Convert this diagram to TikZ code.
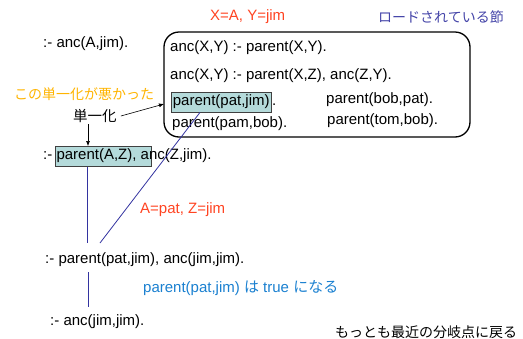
\documentclass[tikz,border=0pt]{standalone}
\usepackage{fontspec}
\setmainfont{Liberation Sans}
\newfontfamily\jp{Noto Sans CJK JP}
\usetikzlibrary{arrows.meta}
\definecolor{redt}{HTML}{FF4422}
\definecolor{navyt}{HTML}{4444A8}
\definecolor{oranget}{HTML}{FFB400}
\definecolor{bluet}{HTML}{1A80D0}
\definecolor{linec}{HTML}{3333A0}
\definecolor{hlfill}{HTML}{B4DADA}
\definecolor{hldraw}{HTML}{404040}
\tikzset{
  txt/.style={inner sep=0pt, anchor=west, font=\fontsize{15}{17}\selectfont},
  jtxt/.style={inner sep=0pt, anchor=west, font=\jp\fontsize{14}{16}\selectfont},
  hlbox/.style={draw=hldraw, fill=hlfill, line width=0.8pt, inner sep=0pt},
  arr/.style={-{Latex[length=5pt,width=4pt]}, line width=0.6pt},
  bline/.style={draw=linec, line width=0.8pt},
}
\begin{document}
\begin{tikzpicture}[x=1pt,y=-1pt]
\useasboundingbox (0,0) rectangle (523,338);
% loaded clauses box
\node (db) [draw, line width=1.3pt, rounded corners=15pt, minimum width=306pt, minimum height=105pt, inner sep=0pt] at (317,84.5) {};
% labels on top
\node (unif) [txt, text=redt] at (210,17) {X=A, Y=jim};
\node (loaded) [jtxt, text=navyt] at (378,17) {ロードされている節};
% query
\node (q1) [txt] at (43,44) {:- anc(A,jim).};
% clauses
\node (c1) [txt] at (170,48) {anc(X,Y) :- parent(X,Y).};
\node (c2) [txt] at (170,76) {anc(X,Y) :- parent(X,Z), anc(Z,Y).};
\node (ppj) [hlbox, txt, inner xsep=1.5pt, minimum height=20pt] at (171,102) {parent(pat,jim)};
\node (ppjd) [txt, anchor=base west] at ([xshift=0.5pt]ppj.base east) {.};
\node (c4) [txt] at (172,124) {parent(pam,bob).};
\node (c5) [txt] at (326,100) {parent(bob,pat).};
\node (c6) [txt] at (327,121) {parent(tom,bob).};
% annotations
\node (bad) [jtxt, text=oranget] at (14,94) {この単一化が悪かった};
\node (tan) [jtxt, font=\jp\fontsize{14.5}{16}\selectfont] at (73,116) {単一化};
% second goal
\node (hl2) [hlbox, anchor=north west, minimum width=96pt, minimum height=20pt] at (55,146) {};
\node (q2) [txt] at (43,156) {:- parent(A,Z), anc(Z,jim).};
\node (az) [txt, text=redt] at (140,210) {A=pat, Z=jim};
\node (q3) [txt] at (45,260) {:- parent(pat,jim), anc(jim,jim).};
\node (tr) [txt, text=bluet] at (143,288) {parent(pat,jim) {\jp は} true {\jp になる}};
\node (q4) [txt] at (50,322) {:- anc(jim,jim).};
\node (back) [jtxt] at (335,332) {もっとも最近の分岐点に戻る};
% connectors
\coordinate (tip1) at (164,104);
\coordinate (d1) at (88,124);
\coordinate (v1) at (87,168);
\coordinate (v1e) at (87,243);
\coordinate (g1) at (200,112);
\coordinate (g1e) at (100,243);
\coordinate (v2) at (88,272);
\coordinate (v2e) at (88,307);
\draw[arr] ([xshift=4pt]tan.east) -- (tip1);
\draw[arr] (d1) -- (d1 |- hl2.north);
\draw[bline] (v1 |- hl2.south) -- (v1e);
\draw[bline] (g1 |- ppj.south) -- (g1e);
\draw[bline] (v2) -- (v2e);
\end{tikzpicture}
\end{document}
